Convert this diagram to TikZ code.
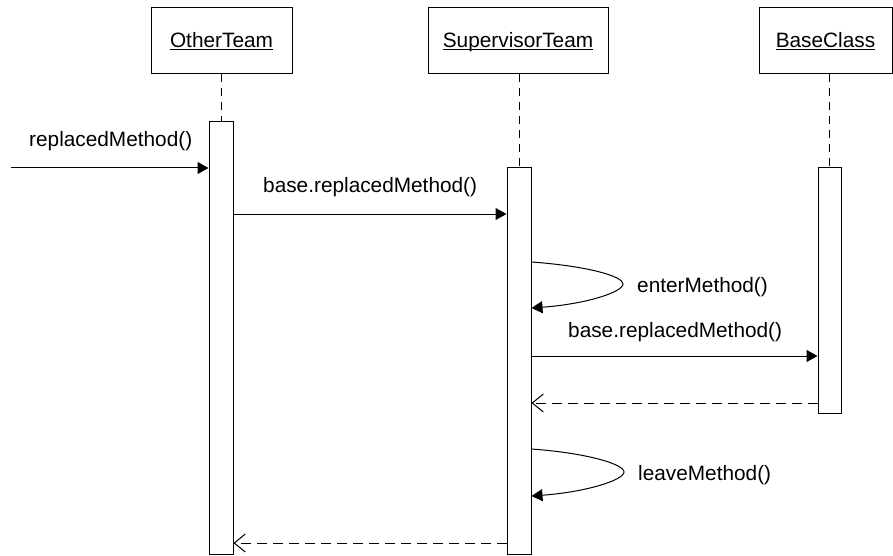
\documentclass[tikz,border=0pt]{standalone}
\usepackage{fontspec}
\setmainfont{Liberation Sans}
\usetikzlibrary{arrows.meta}
\newcommand{\objname}[1]{\underline{\smash{#1}}}
\begin{document}
\begin{tikzpicture}[x=1pt,y=-1pt,
  every node/.style={font=\fontsize{20.8}{25}\selectfont},
  objbox/.style={draw,line width=1pt,minimum height=66pt,inner sep=0pt,text height=16pt,text depth=2pt},
  actbar/.style={draw,fill=white,line width=1pt,minimum width=24pt,inner sep=0pt},
  lifeline/.style={line width=1pt,dash pattern=on 8pt off 6pt},
  call/.style={line width=1pt,-{Triangle[length=11pt,width=12pt]}},
  reply/.style={line width=1pt,dash pattern=on 10pt off 6pt,-{Straight Barb[length=11pt,width=18pt]}},
  msg/.style={anchor=base west,inner sep=0pt}]
\useasboundingbox (0,0) rectangle (893,556);

% object headers
\node[objbox,minimum width=141pt] (other) at (221.5,41) {\objname{OtherTeam}};
\node[objbox,minimum width=180pt] (super) at (518,41) {\objname{SupervisorTeam}};
\node[objbox,minimum width=133pt] (base)  at (825.5,41) {\objname{BaseClass}};

% activation bars
\node[actbar,minimum height=432pt] (otherbar) at (221,338) {};
\node[actbar,minimum height=386pt] (superbar) at (519,361) {};
\node[actbar,minimum width=23pt,minimum height=245pt] (basebar) at (829.5,290.5) {};

% lifelines
\draw[lifeline] (other.south -| otherbar.north) -- (otherbar.north);
\draw[lifeline] (super.south -| superbar.north) -- (superbar.north);
\draw[lifeline] (base.south -| basebar.north) -- (basebar.north);

% message levels
\coordinate (src) at (11,168);
\coordinate (m1) at (0,214);
\coordinate (s1a) at (0,262);
\coordinate (s1t) at (623,284);
\coordinate (s1b) at (0,308);
\coordinate (m2) at (0,356);
\coordinate (r1) at (0,403);
\coordinate (s2a) at (0,449);
\coordinate (s2t) at (624,472);
\coordinate (s2b) at (0,496);
\coordinate (r2) at (0,543);

% found message
\draw[call] (src) -- (src -| otherbar.west);
\node[msg] (lbl0) at (29,147) {replacedMethod()};

% OtherTeam -> SupervisorTeam
\draw[call] (otherbar.east |- m1) -- (superbar.west |- m1);
\node[msg] (lbl1) at (263,193) {base.replacedMethod()};

% self call: enterMethod
\draw[call] (superbar.east |- s1a) .. controls +(55,4) and +(0,-8) .. (s1t)
  .. controls +(0,8) and +(55,-4) .. (superbar.east |- s1b);
\node[msg] (lbl2) at (637,292) {enterMethod()};

% SupervisorTeam -> BaseClass
\draw[call] (superbar.east |- m2) -- (basebar.west |- m2);
\node[msg] (lbl3) at (568,337) {base.replacedMethod()};

% return from BaseClass
\draw[reply] (basebar.west |- r1) -- (superbar.east |- r1);

% self call: leaveMethod
\draw[call] (superbar.east |- s2a) .. controls +(55,4) and +(0,-8) .. (s2t)
  .. controls +(0,8) and +(55,-4) .. (superbar.east |- s2b);
\node[msg] (lbl4) at (638,480) {leaveMethod()};

% return to OtherTeam
\draw[reply] (superbar.west |- r2) -- (otherbar.east |- r2);
\end{tikzpicture}
\end{document}
